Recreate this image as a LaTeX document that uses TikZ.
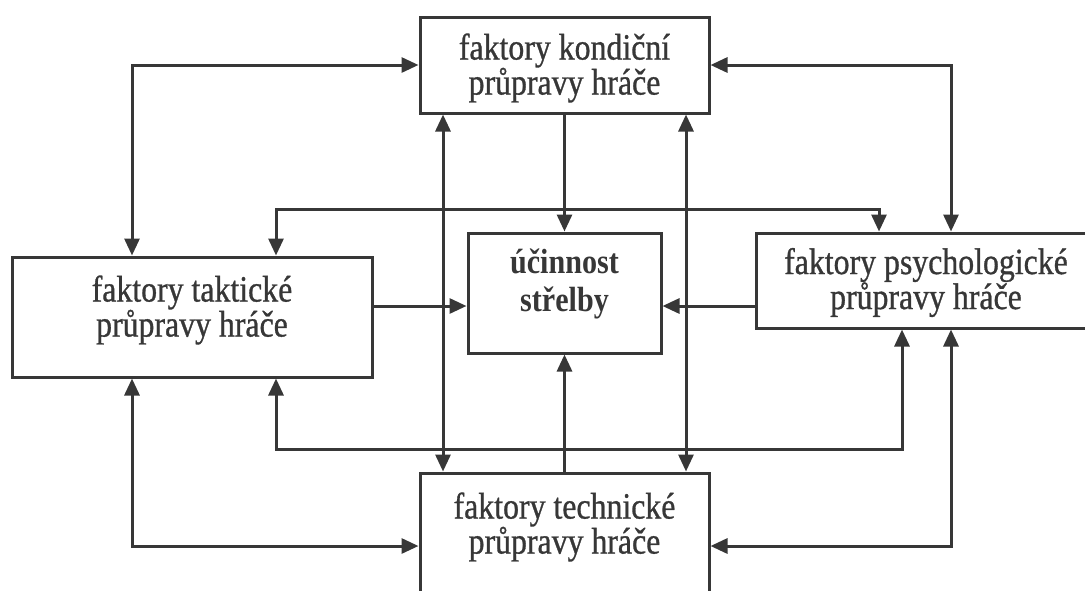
\documentclass[tikz,border=0pt]{standalone}
\usepackage{fontspec}
\setmainfont{Liberation Serif}[FakeStretch=0.86, UprightFeatures={FakeBold=0.8}]
\usetikzlibrary{arrows.meta, positioning, calc}
\definecolor{ink}{RGB}{55,55,55}
\tikzset{
	faktor/.style={draw=ink, line width=3pt, rectangle, inner sep=0pt},
	popis/.style={align=center, text=ink},
	spoj/.style={draw=ink, line width=3pt},
}

\begin{document}
\begin{tikzpicture}[x=1pt, y=-1pt, >={Triangle[length=17pt,width=15pt]},
		font=\fontsize{37}{35}\selectfont]
	\useasboundingbox (0,0) rectangle (1085,590);
	\clip (0,0) rectangle (1085,590);
	% boxes
	\node[faktor, minimum width=289pt, minimum height=96pt,
		label={[popis, yshift=-3pt]center:{faktory kondiční\\průpravy hráče}}] (kond) at (564.5,65) {};
	\node[faktor, minimum width=360pt, minimum height=120pt,
		label={[popis, yshift=7pt]center:{faktory taktické\\průpravy hráče}}] (takt) at (192,317) {};
	\node[faktor, minimum width=193pt, minimum height=120pt,
		label={[popis, yshift=9pt, font=\fontsize{35}{38}\selectfont\bfseries]center:{účinnost\\střelby}}] (ucin) at (564.5,293) {};
	\node[faktor, minimum width=340pt, minimum height=95pt,
		label={[popis, yshift=-2pt]center:{faktory psychologické\\průpravy hráče}}] (psych) at (926,280.5) {};
	\node[faktor, minimum width=289pt, minimum height=137pt,
		label={[popis, yshift=14.5pt]center:{faktory technické\\průpravy hráče}}] (tech) at (564.5,541.5) {};
	% lanes
	\coordinate (xA) at (132,0);
	\coordinate (xB) at (276,0);
	\coordinate (xC) at (443,0);
	\coordinate (xD) at (686,0);
	\coordinate (xE) at (879,0);
	\coordinate (xF) at (902,0);
	\coordinate (xG) at (951,0);
	\coordinate (yT) at (0,209);
	\coordinate (yM) at (0,306);
	\coordinate (yB) at (0,449);
	\coordinate (yS) at (0,546);
	% connectors
	\draw[spoj, <->] (takt.north -| xA) |- (kond.west);
	\draw[spoj, <->] (kond.east) -| (psych.north -| xG);
	\draw[spoj, <->] (takt.north -| xB) |- (xE |- yT) -- (psych.north -| xE);
	\draw[spoj, ->] (kond) -- (ucin);
	\draw[spoj, <->] (kond.south -| xC) -- (tech.north -| xC);
	\draw[spoj, <->] (kond.south -| xD) -- (tech.north -| xD);
	\draw[spoj, ->] (takt.east |- yM) -- (ucin.west |- yM);
	\draw[spoj, ->] (psych.west |- yM) -- (ucin.east |- yM);
	\draw[spoj, ->] (tech) -- (ucin);
	\draw[spoj, <->] (takt.south -| xB) |- (xF |- yB) -- (psych.south -| xF);
	\draw[spoj, <->] (takt.south -| xA) |- (tech.west |- yS);
	\draw[spoj, <->] (psych.south -| xG) |- (tech.east |- yS);
\end{tikzpicture}
\end{document}
